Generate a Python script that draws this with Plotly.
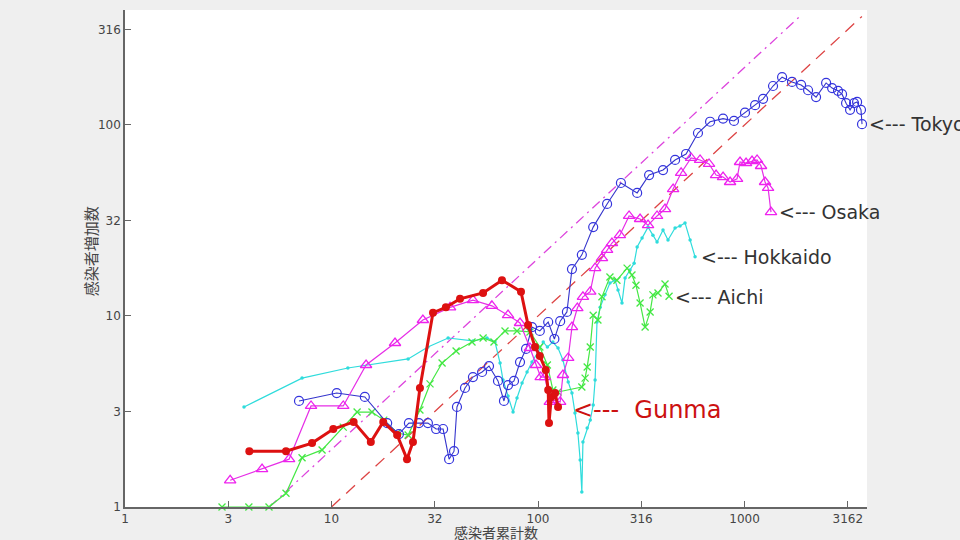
import math
import plotly.graph_objects as go

# ---- data ----
tokyo_x = [6.96, 10.6, 14.5, 18.6, 21.2, 23.7, 26.5, 29.3, 32.1, 34.7, 37.1, 39.2, 40.5, 44.3, 48.4,
           53.6, 57.9, 64.0, 68.4, 71.6, 76.5, 81.8, 87.5, 93.5, 102, 112, 120, 128, 138, 146, 163,
           185, 216, 252, 302, 345, 403, 461, 521, 595, 681, 787, 889, 1005, 1125, 1230, 1374, 1520,
           1698, 1879, 2031, 2220, 2483, 2655, 2837, 2966, 3102, 3243, 3391, 3508, 3664, 3706]
tokyo_y = [3.59, 3.95, 3.77, 2.75, 2.41, 2.75, 2.75, 2.75, 2.56, 2.56, 1.78, 1.96, 3.34, 4.20, 4.79,
           5.09, 5.47, 4.57, 3.59, 4.35, 4.57, 5.74, 6.72, 8.75, 8.35, 9.3, 7.58, 9.4, 10.5, 17.6, 20.9,
           29.2, 38.6, 49.7, 44.1, 54.7, 58.1, 65.6, 70.5, 90.8, 104, 108, 105, 116, 127, 137, 160, 178,
           168, 162, 152, 140, 166, 156, 151, 145, 130, 120, 130, 132, 120, 101]

osaka_x = [3.23, 4.61, 6.23, 7.96, 11.4, 14.7, 20.3, 27.7, 37.5, 48.4, 59.8, 71.6, 81.8, 91.4, 97.8,
           103, 108, 114, 118, 128, 132, 140, 146, 155, 165, 179, 189, 204, 216, 228, 249, 276, 312,
           341, 377, 412, 451, 493, 551, 609, 673, 728, 787, 851, 920, 951, 1017, 1087, 1150, 1202,
           1257, 1300, 1343]
osaka_y = [1.38, 1.58, 1.78, 3.38, 3.38, 5.54, 7.22, 9.53, 11.1, 12.1, 11.3, 10.1, 9.19, 6.80, 5.54,
           4.79, 4.79, 3.55, 3.63, 3.55, 4.91, 6.03, 8.75, 11.0, 12.6, 13.4, 17.8, 20.1, 22.2, 24.1,
           26.5, 33.4, 32.2, 29.9, 33.4, 36.3, 46.2, 56.1, 67.2, 65.6, 62.5, 54.7, 53.4, 50.3, 52.2,
           64.0, 63.2, 64.8, 65.6, 61.0, 50.3, 46.8, 35.0]

hokkaido_x = [3.77, 7.2, 12.0, 23.5, 29.3, 36.7, 48.4, 56.6, 61.9, 65.5, 67.7, 71.6, 75.7, 79.1, 83.7,
              88.5, 93.5, 100, 106, 111, 118, 125, 132, 140, 146, 151, 156, 160, 163, 165, 173, 179,
              185, 189, 193, 200, 211, 223, 236, 244, 255, 264, 279, 292, 302, 319, 341, 360, 377,
              403, 426, 461, 487, 515, 545, 576]
hokkaido_y = [3.34, 4.73, 5.34, 5.96, 6.88, 7.67, 7.40, 7.67, 7.31, 5.67, 4.62, 3.81, 3.14, 3.72, 4.46,
              5.09, 5.74, 6.48, 7.31, 6.88, 7.31, 6.80, 5.88, 4.51, 3.95, 3.11, 2.44, 1.76, 1.20, 2.19,
              2.59, 2.85, 3.42, 4.62, 9.3, 11.1, 12.9, 14.9, 15.4, 13.7, 11.7, 15.8, 17.4, 18.9, 23.0,
              25.6, 29.2, 26.5, 24.4, 28.2, 25.0, 28.9, 29.6, 30.7, 25.0, 20.4]

aichi_x = [2.95, 3.98, 4.98, 6.02, 7.20, 9.0, 11.4, 13.3, 15.7, 17.9, 20.8, 23.5, 26.8, 30.0, 34.3,
           40.1, 47.9, 54.2, 61.2, 69.2, 79.1, 91.4, 102, 111, 118, 125, 163, 169, 173, 179, 185,
           195, 204, 223, 241, 270, 285, 298, 312, 330, 349, 360, 381, 412, 431]
aichi_y = [1, 1, 1, 1.18, 1.81, 1.99, 2.62, 3.14, 3.14, 2.85, 2.44, 2.38, 3.22, 4.41, 5.67,
           6.56, 7.31, 7.67, 7.31, 8.35, 8.35, 8.25, 6.88, 5.54, 4.10, 4.0, 4.25, 4.73, 5.41, 6.88,
           10.1, 9.53, 12.6, 16.0, 15.4, 17.8, 16.4, 14.5, 11.7, 8.75, 10.5, 12.9, 13.2, 14.7, 12.7]

gunma_x = [4.0, 6.02, 8.05, 10.2, 12.8, 15.5, 17.8, 20.8, 23.2, 24.8, 26.8, 31.0, 35.8, 41.9, 54.2,
           66.9, 82.7, 89.5, 96.7, 102, 109, 112, 113, 116, 121, 125]
gunma_y = [1.96, 1.96, 2.16, 2.56, 2.79, 2.19, 2.79, 2.38, 1.78, 2.19, 4.20, 10.4, 11.1, 12.3, 13.2,
           15.4, 13.4, 8.97, 6.88, 6.18, 5.22, 4.10, 2.75, 3.77, 3.95, 3.34]

# reference lines (y = x/5 and y = x/10)
ref5_x = [5, 1900]
ref5_y = [1, 380]
ref10_x = [10, 3700]
ref10_y = [1, 370]

tick_vals = [1, 3.1623, 10, 31.623, 100, 316.23, 1000, 3162.3]
tick_text = ["1", "3", "10", "32", "100", "316", "1000", "3162"]
ytick_vals = [1, 3.1623, 10, 31.623, 100, 316.23]
ytick_text = ["1", "3", "10", "32", "100", "316"]

fig = go.Figure()

fig.add_trace(go.Scatter(x=ref5_x, y=ref5_y, mode="lines",
                         line=dict(color="#dd44dd", width=1.3, dash="10px,5px,2px,5px"),
                         hoverinfo="skip"))
fig.add_trace(go.Scatter(x=ref10_x, y=ref10_y, mode="lines",
                         line=dict(color="#dd4444", width=1.3, dash="12px,8px"),
                         hoverinfo="skip"))

fig.add_trace(go.Scatter(x=hokkaido_x, y=hokkaido_y, mode="lines+markers", name="Hokkaido",
                         line=dict(color="#2fdcdc", width=1.2),
                         marker=dict(symbol="circle", size=3.5, color="#2fdcdc")))
fig.add_trace(go.Scatter(x=aichi_x, y=aichi_y, mode="lines+markers", name="Aichi", cliponaxis=False,
                         line=dict(color="#44e844", width=1.2),
                         marker=dict(symbol="x-thin-open", size=7, color="#44e844",
                                     line=dict(color="#44e844", width=1.3))))
fig.add_trace(go.Scatter(x=tokyo_x, y=tokyo_y, mode="lines+markers", name="Tokyo",
                         line=dict(color="#3434cc", width=1.1),
                         marker=dict(symbol="circle-open", size=9, color="#3434dd",
                                     line=dict(color="#3434dd", width=1.2))))
fig.add_trace(go.Scatter(x=osaka_x, y=osaka_y, mode="lines+markers", name="Osaka",
                         line=dict(color="#e62ee6", width=1.2),
                         marker=dict(symbol="triangle-up-open", size=10, color="#ee22ee",
                                     line=dict(color="#ee22ee", width=1.3))))
fig.add_trace(go.Scatter(x=gunma_x, y=gunma_y, mode="lines+markers", name="Gunma",
                         line=dict(color="#dd1111", width=3),
                         marker=dict(symbol="circle", size=8, color="#dd1111")))

lab_font = dict(family="DejaVu Sans", size=19, color="#333333")
labels = [
    ("Tokyo", tokyo_x[-1], tokyo_y[-1], 5, 0),
    ("Osaka", osaka_x[-1], osaka_y[-1], 6, 0),
    ("Hokkaido", hokkaido_x[-1], hokkaido_y[-1], 4, 0),
    ("Aichi", aichi_x[-1], aichi_y[-1], 4, -1),
]
for name, lx, ly, dx, dy in labels:
    fig.add_annotation(x=math.log10(lx), y=math.log10(ly), xref="x", yref="y",
                       text="&lt;--- " + name, showarrow=False, xanchor="left", yanchor="middle",
                       xshift=dx, yshift=dy, font=lab_font)

fig.add_annotation(x=math.log10(gunma_x[-1]), y=math.log10(gunma_y[-1]), xref="x", yref="y",
                   text="&lt;---&nbsp;&nbsp;Gunma", showarrow=False, xanchor="left", yanchor="middle",
                   xshift=13, yshift=-3,
                   font=dict(family="DejaVu Sans", size=24, color="#cc1111"))

fig.add_annotation(x=0.5, y=-0.0503, xref="paper", yref="paper", text="感染者累計数",
                   showarrow=False, xanchor="center", yanchor="middle",
                   font=dict(family="Noto Sans CJK JP", size=14, color="#444444"))
fig.add_annotation(x=-0.047, y=0.515, xref="paper", yref="paper", text="感染者増加数",
                   showarrow=False, xanchor="center", yanchor="middle", textangle=-90,
                   font=dict(family="Noto Sans CJK JP", size=15, color="#444444"))

axis_common = dict(type="log", showgrid=False, zeroline=False, showline=True,
                   linecolor="#666666", linewidth=1.5, ticks="inside", ticklen=6,
                   tickcolor="#666666", tickwidth=1.2, mirror=False,
                   tickfont=dict(family="DejaVu Sans", size=12, color="#444444"))

fig.update_layout(
    width=960, height=540,
    margin=dict(l=125, r=93, t=10, b=33),
    paper_bgcolor="#efefef", plot_bgcolor="#ffffff",
    showlegend=False,
    xaxis=dict(range=[0, 3.593], tickvals=tick_vals, ticktext=tick_text, **axis_common),
    yaxis=dict(range=[0, 2.602], tickvals=ytick_vals, ticktext=ytick_text, **axis_common),
)

fig.write_html("out.html", config={"displayModeBar": False},
               post_script="document.body.style.margin='0';document.body.style.overflow='hidden';")
